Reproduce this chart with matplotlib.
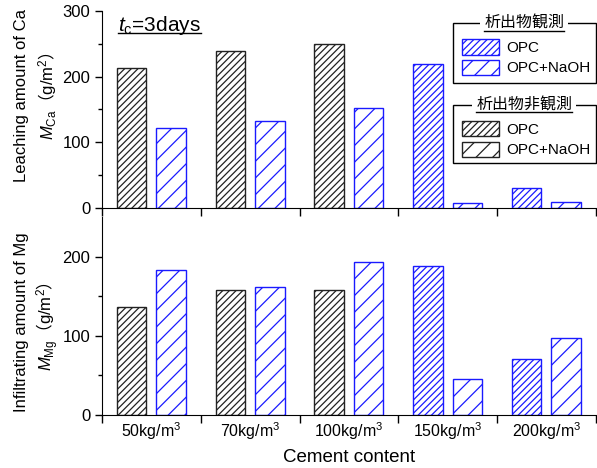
import matplotlib
matplotlib.use("Agg")
import matplotlib.pyplot as plt
import numpy as np
from matplotlib.patches import Patch, Rectangle
from matplotlib.lines import Line2D
from matplotlib.legend import Legend

plt.rcParams['font.family'] = ['Liberation Sans', 'Noto Sans CJK JP']
plt.rcParams['mathtext.fontset'] = 'custom'
plt.rcParams['mathtext.rm'] = 'Liberation Sans'
plt.rcParams['mathtext.it'] = 'Liberation Sans:italic'
plt.rcParams['mathtext.sf'] = 'Noto Sans CJK JP'
plt.rcParams['font.size'] = 11.5
plt.rcParams['hatch.linewidth'] = 0.9

# data
contents = ['50kg/m$^3$', '70kg/m$^3$', '100kg/m$^3$', '150kg/m$^3$', '200kg/m$^3$']
ca_opc = [213, 239, 250, 219, 30]
ca_naoh = [122, 132, 153, 7, 9]
mg_opc = [137, 158, 158, 188, 71]
mg_naoh = [183, 162, 193, 45, 97]
observed = [False, False, False, True, True]  # precipitate observed -> blue

blue = '#1a1aff'
dark = '#222222'

fig = plt.figure(figsize=(5.97, 4.68), dpi=100)
ax1 = fig.add_axes([0.1709, 0.5556, 0.8271, 0.4209])
ax2 = fig.add_axes([0.1709, 0.1132, 0.8271, 0.4231])

x = np.arange(len(contents))
w = 0.3


def draw_bars(ax, opc, naoh):
    for i in range(len(x)):
        c = blue if observed[i] else dark
        ax.bar(x[i] - 0.2, opc[i], w, facecolor='white', edgecolor=c,
               hatch='/////', linewidth=1)
        ax.bar(x[i] + 0.2, naoh[i], w, facecolor='white', edgecolor=blue,
               hatch='//', linewidth=1)
    ax.set_xlim(-0.5, 4.5)
    ax.spines['top'].set_visible(False)
    ax.spines['right'].set_visible(False)
    ax.set_xticks(np.arange(-0.5, 5, 1))
    ax.set_xticklabels([])
    ax.tick_params(axis='x', direction='out', length=6, width=1)
    ax.tick_params(axis='y', direction='out', length=5, width=1, labelsize=12)
    ax.tick_params(axis='y', which='minor', direction='out', length=3, width=1)
    ax.set_xticks(x, minor=True)
    ax.tick_params(axis='x', which='minor', length=0)


draw_bars(ax1, ca_opc, ca_naoh)
ax1.set_ylim(0, 300)
ax1.set_yticks([0, 100, 200, 300])
ax1.set_yticks([50, 150, 250], minor=True)

draw_bars(ax2, mg_opc, mg_naoh)
ax2.set_ylim(0, 250)
ax2.set_yticks([0, 100, 200])
ax2.set_yticks([50, 150], minor=True)
ax2.set_xticklabels(contents, minor=True)
ax2.tick_params(axis='x', which='minor', pad=4)
ax2.set_xlabel('Cement content', fontsize=13.5, labelpad=5)

# y labels, two lines each
unit = r'\mathsf{（}\mathrm{g/m}^{2}\mathsf{）}$'
fig.text(22 / 597, 1 - 95 / 468, 'Leaching amount of Ca', rotation=90,
         ha='center', va='center', fontsize=12)
fig.text(48 / 597, 1 - 96 / 468, r'$\mathit{M}_{\mathrm{Ca}}' + unit, rotation=90,
         ha='center', va='center', fontsize=12)
fig.text(22 / 597, 1 - 322 / 468, 'Infiltrating amount of Mg', rotation=90,
         ha='center', va='center', fontsize=12)
fig.text(48 / 597, 1 - 326 / 468, r'$\mathit{M}_{\mathrm{Mg}}' + unit, rotation=90,
         ha='center', va='center', fontsize=12)

t = ax1.text(0.117, 0.896, r'$\mathit{t}_{\mathrm{c}}$=3days', transform=ax1.transAxes,
             ha='center', va='baseline', fontsize=15)


def add_box(ax, title, y_top, y_bot, entries):
    box = Rectangle((0.7105, y_bot), 0.2895, y_top - y_bot, transform=ax.transAxes,
                    facecolor='white', edgecolor='black', linewidth=1,
                    clip_on=False, zorder=5)
    ax.add_patch(box)
    tt = ax.text(0.855, y_top, title, transform=ax.transAxes, ha='center',
                 va='center', fontsize=11.5, zorder=7,
                 bbox=dict(facecolor='white', edgecolor='none', pad=3))
    handles = [Patch(facecolor='white', edgecolor=c, hatch=h, linewidth=1)
               for c, h in entries]
    leg = Legend(ax, handles, ['OPC', 'OPC+NaOH'], loc='upper left',
                 bbox_to_anchor=(0.7287, y_top - 0.083), frameon=False,
                 borderpad=0, borderaxespad=0, handlelength=2.45,
                 handleheight=1.15, labelspacing=0.3, handletextpad=0.45,
                 fontsize=11)
    leg.set_zorder(8)
    ax.add_artist(leg)
    return tt


tt1 = add_box(ax1, '析出物観測', 0.939, 0.6345, [(blue, '/////'), (blue, '//')])
tt2 = add_box(ax1, '析出物非観測', 0.523, 0.228, [(dark, '/////'), (dark, '//')])

# underline texts
fig.canvas.draw()
r = fig.canvas.get_renderer()
inv = fig.transFigure.inverted()
bb = t.get_window_extent(r)
base = ax1.transAxes.transform((0, 0.896))[1]
(x0, y0), (x1, _) = inv.transform([(bb.x0, base - 2), (bb.x1, base - 2)])
fig.add_artist(Line2D([x0, x1], [y0, y0], color='black', linewidth=1,
                      transform=fig.transFigure, zorder=10))
for txt in [tt1, tt2]:
    bb = txt.get_window_extent(r)
    (x0, y0), (x1, _) = inv.transform([(bb.x0, bb.y0), (bb.x1, bb.y0)])
    fig.add_artist(Line2D([x0, x1], [y0, y0], color='black', linewidth=1,
                          transform=fig.transFigure, zorder=10))

fig.savefig('out.png', dpi=100)
